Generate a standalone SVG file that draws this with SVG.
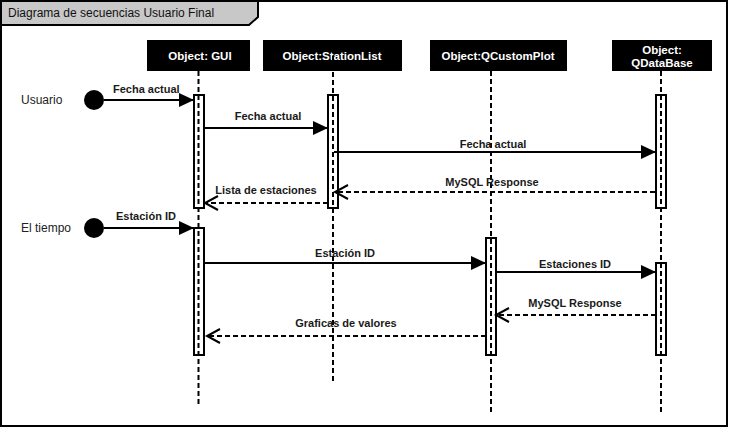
<svg xmlns="http://www.w3.org/2000/svg" width="729" height="428" viewBox="0 0 729 428">
<style>
.frame{fill:#fff;stroke:#000;stroke-width:2}
.tab{fill:#c8c8c8;stroke:#000;stroke-width:2}
.title{font-family:"Liberation Sans",Arial,sans-serif;font-size:12px;fill:#111}
.obj{fill:#000}
.objt{font-family:"Liberation Sans",Arial,sans-serif;font-size:11.5px;font-weight:bold;fill:#fff;text-anchor:middle}
.life{stroke:#000;stroke-width:2;stroke-dasharray:5 3;fill:none}
.act{fill:#fff;stroke:#000;stroke-width:2}
.msg{stroke:#000;stroke-width:2;fill:none}
.ret{stroke:#000;stroke-width:2;fill:none;stroke-dasharray:5 3}
.lbl{font-family:"Liberation Sans",Arial,sans-serif;font-size:11px;font-weight:bold;fill:#1a1a1a}
.actor{font-family:"Liberation Sans",Arial,sans-serif;font-size:12px;fill:#222}
</style>
<defs>
<marker id="fill" markerUnits="userSpaceOnUse" markerWidth="16" markerHeight="16" refX="15" refY="7" orient="auto">
<path d="M0,0 L15,7 L0,14 z" fill="#000"/>
</marker>
<marker id="open" markerUnits="userSpaceOnUse" markerWidth="18" markerHeight="18" refX="14" refY="8" orient="auto">
<path d="M1,1 L14,8 L1,15" fill="none" stroke="#000" stroke-width="2" stroke-dasharray="none"/>
</marker>
</defs>
<rect class="frame" x="1" y="1" width="726" height="425"/>
<g id="title">
<polygon class="tab" points="1,1 258,1 258,17 249,25 1,25"/>
<text class="title" x="8" y="17">Diagrama de secuencias Usuario Final</text>
</g>
<g id="actor-usuario">
<text class="actor" x="21" y="104">Usuario</text>
<circle cx="94" cy="100" r="10" fill="#000"/>
</g>
<g id="actor-tiempo">
<text class="actor" x="21" y="232">El tiempo</text>
<circle cx="94" cy="228" r="10" fill="#000"/>
</g>
<g id="obj-gui">
<rect class="obj" x="147" y="40" width="103" height="31"/>
<text class="objt" x="200" y="60">Object: GUI</text>
<rect class="act" x="194" y="95" width="10" height="113"/>
<rect class="act" x="194" y="228" width="10" height="127"/>
<line class="life" x1="198.5" y1="71" x2="198.5" y2="407"/>
</g>
<g id="obj-stationlist">
<rect class="obj" x="263" y="40" width="139" height="31"/>
<text class="objt" x="332" y="60">Object:StationList</text>
<rect class="act" x="328" y="95" width="10" height="113"/>
<line class="life" x1="333" y1="40" x2="333" y2="382"/>
</g>
<g id="obj-qcustomplot">
<rect class="obj" x="430" y="40" width="137" height="31"/>
<text class="objt" x="498" y="60">Object:QCustomPlot</text>
<rect class="act" x="486" y="238" width="10" height="117"/>
<line class="life" x1="491" y1="71" x2="491" y2="412"/>
</g>
<g id="obj-qdatabase">
<rect class="obj" x="612" y="40" width="100" height="31"/>
<text class="objt" x="662" y="53.5">Object:</text>
<text class="objt" x="662" y="67">QDataBase</text>
<rect class="act" x="656" y="95" width="10" height="113"/>
<rect class="act" x="656" y="263" width="10" height="92"/>
<line class="life" x1="661" y1="71" x2="661" y2="412"/>
</g>
<g id="connectors">
<line class="msg" x1="104" y1="100" x2="194" y2="100" marker-end="url(#fill)"/>
<text class="lbl" x="113" y="93">Fecha actual</text>
<line class="msg" x1="204" y1="128" x2="328" y2="128" marker-end="url(#fill)"/>
<text class="lbl" x="268" y="120" text-anchor="middle">Fecha actual</text>
<line class="msg" x1="334" y1="152" x2="656" y2="152" marker-end="url(#fill)"/>
<text class="lbl" x="493" y="148" text-anchor="middle">Fecha actual</text>
<line class="ret" x1="655" y1="192" x2="335" y2="192" marker-end="url(#open)"/>
<text class="lbl" x="492" y="186" text-anchor="middle">MySQL Response</text>
<line class="ret" x1="328" y1="203" x2="205" y2="203" marker-end="url(#open)"/>
<text class="lbl" x="266" y="194" text-anchor="middle">Lista de estaciones</text>
<line class="msg" x1="104" y1="228" x2="194" y2="228" marker-end="url(#fill)"/>
<text class="lbl" x="116" y="220">Estación ID</text>
<line class="msg" x1="204" y1="263" x2="486" y2="263" marker-end="url(#fill)"/>
<text class="lbl" x="345" y="257" text-anchor="middle">Estación ID</text>
<line class="msg" x1="496" y1="272" x2="656" y2="272" marker-end="url(#fill)"/>
<text class="lbl" x="575" y="268" text-anchor="middle">Estaciones ID</text>
<line class="ret" x1="656" y1="315" x2="496" y2="315" marker-end="url(#open)"/>
<text class="lbl" x="575" y="307" text-anchor="middle">MySQL Response</text>
<line class="ret" x1="486" y1="336" x2="207" y2="336" marker-end="url(#open)"/>
<text class="lbl" x="346" y="327" text-anchor="middle">Graficas de valores</text>
</g>
</svg>
